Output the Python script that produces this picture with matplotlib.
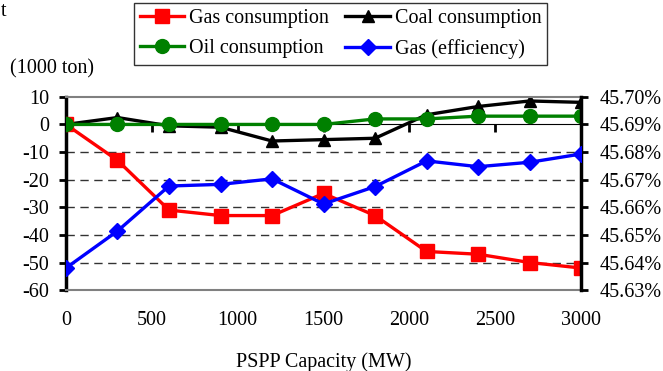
import matplotlib
matplotlib.use("Agg")
import matplotlib.pyplot as plt
from matplotlib.ticker import FuncFormatter

plt.rcParams['font.family'] = ['Liberation Serif', 'DejaVu Serif']
plt.rcParams['font.size'] = 14.5
plt.rcParams['axes.unicode_minus'] = False

capacity = [0, 300, 600, 900, 1200, 1500, 1800, 2100, 2400, 2700, 3000]
gas_consumption = [0, -13, -31, -33, -33, -25, -33, -46, -47, -50, -52]
coal_consumption = [0, 2.5, -0.5, -1, -6, -5.5, -5, 3.5, 6.5, 8.5, 8]
oil_consumption = [0, 0, 0, 0, 0, 0, 2, 2, 3, 3, 3]
gas_efficiency = [45.638, 45.6514, 45.6677, 45.6683, 45.6703, 45.6612,
                  45.6675, 45.6768, 45.6747, 45.6763, 45.6793]

left_ticks = [10, 0, -10, -20, -30, -40, -50, -60]
x_ticks = [0, 500, 1000, 1500, 2000, 2500, 3000]
right_ticks = [45.63, 45.64, 45.65, 45.66, 45.67, 45.68, 45.69, 45.70]

fig = plt.figure(figsize=(6.63, 3.71), dpi=100)
ax = fig.add_axes([0.0995, 0.218, 0.777, 0.521])

# dashed guide lines between the frame lines
for v in left_ticks:
    if -60 < v < 0:
        ax.axhline(v, color='#333333', lw=1.0, ls=(0, (6, 4)), zorder=0)

l_coal, = ax.plot(capacity, coal_consumption, color='black', lw=2.4,
                  marker='^', ms=9, zorder=2, label='Coal consumption')
l_gas, = ax.plot(capacity, gas_consumption, color='#ff0000', lw=2.4,
                 marker='s', ms=10, zorder=3, label='Gas consumption')
l_oil, = ax.plot(capacity, oil_consumption, color='#008000', lw=2.4,
                 marker='o', ms=10, zorder=4, label='Oil consumption')

ax.set_xlim(0, 3000)
ax.set_ylim(-60, 10)
ax.set_yticks(left_ticks)
ax.set_xticks(x_ticks)
ax.tick_params(axis='x', length=0, pad=15)
ax.tick_params(axis='y', direction='out', length=5, width=2, pad=7)
for s in ('top', 'bottom'):
    ax.spines[s].set_color('#808080')
    ax.spines[s].set_linewidth(1.5)
ax.spines['left'].set_linewidth(2.5)
ax.spines['left'].set_color('black')
ax.spines['right'].set_visible(False)
ax.set_xlabel('PSPP Capacity (MW)', labelpad=16)

# horizontal axis line through zero with upward ticks
zero_pos = (0 - (-60)) / (10 - (-60))
sec = ax.secondary_xaxis(zero_pos)
sec.set_xticks(x_ticks)
sec.tick_params(axis='x', direction='in', length=6, width=2, labelbottom=False,
                labeltop=False)
sec.spines['bottom'].set_linewidth(2.2)
sec.spines['bottom'].set_color('black')

ax2 = ax.twinx()
l_eff, = ax2.plot(capacity, gas_efficiency, color='#0000ff', lw=2.4,
                  marker='D', ms=8, zorder=5, label='Gas (efficiency)')
ax2.set_ylim(45.63, 45.70)
ax2.set_yticks(right_ticks)
ax2.yaxis.set_major_formatter(FuncFormatter(lambda v, p: f'{v:.2f}%'))
ax2.tick_params(axis='y', direction='out', length=5, width=2, pad=8)
ax2.spines['right'].set_linewidth(2.5)
ax2.spines['right'].set_color('black')
for s in ('top', 'bottom', 'left'):
    ax2.spines[s].set_visible(False)

fig.text(0.015, 0.815, '(1000 ton)', ha='left', va='center')
fig.text(0.001, 0.968, 't', ha='left', va='center')

leg = fig.legend([l_gas, l_oil, l_coal, l_eff],
                 ['Gas consumption', 'Oil consumption', 'Coal consumption',
                  'Gas (efficiency)'],
                 ncol=2, loc='upper center', bbox_to_anchor=(0.514, 0.992),
                 frameon=True, fancybox=False, edgecolor='black',
                 handlelength=2.2, handletextpad=0.25, columnspacing=0.8,
                 labelspacing=0.55, borderpad=0.3, borderaxespad=0)
leg.get_frame().set_linewidth(1.0)

fig.savefig('out.png', dpi=100)
